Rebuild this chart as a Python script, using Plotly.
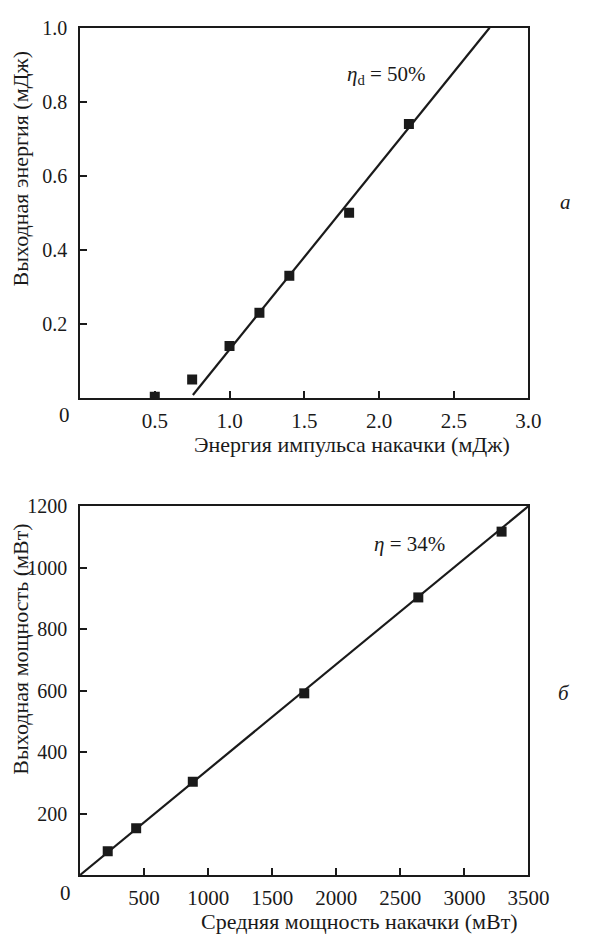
import plotly.graph_objects as go

W, H = 590, 936

# --- Panel a: pulse energy ---
pump_energy = [0.5, 0.75, 1.0, 1.2, 1.4, 1.8, 2.2]          # mJ
out_energy = [0.003, 0.05, 0.14, 0.23, 0.33, 0.50, 0.74]     # mJ
fit_a_x = [0.755, 2.74]
fit_a_y = [0.008, 1.0]
xticks_a = [0.5, 1.0, 1.5, 2.0, 2.5, 3.0]
yticks_a = [0.2, 0.4, 0.6, 0.8, 1.0]

# --- Panel б: average power ---
pump_power = [216, 438, 880, 1750, 2640, 3290]               # mW
out_power = [77, 152, 303, 591, 903, 1117]                   # mW
fit_b_x = [0, 3500]
fit_b_y = [0, 1200]
xticks_b = [500, 1000, 1500, 2000, 2500, 3000, 3500]
yticks_b = [200, 400, 600, 800, 1000, 1200]

FONT = "Liberation Serif"
FS_X = 21
FS_Y = 20
FS_T = 22
INK = "#1a1a1a"

def px(x):
    return x / W

def py(y):
    return 1 - y / H

fig = go.Figure()

fig.add_trace(go.Scatter(x=fit_a_x, y=fit_a_y, mode="lines",
                         line=dict(color=INK, width=2.2),
                         xaxis="x", yaxis="y", showlegend=False))
fig.add_trace(go.Scatter(x=pump_energy, y=out_energy, mode="markers",
                         marker=dict(symbol="square", size=10, color=INK),
                         xaxis="x", yaxis="y", showlegend=False))
fig.add_trace(go.Scatter(x=fit_b_x, y=fit_b_y, mode="lines",
                         line=dict(color=INK, width=2.2),
                         xaxis="x2", yaxis="y2", showlegend=False))
fig.add_trace(go.Scatter(x=pump_power, y=out_power, mode="markers",
                         marker=dict(symbol="square", size=10, color=INK),
                         xaxis="x2", yaxis="y2", showlegend=False))

axis_common = dict(showline=True, linecolor=INK, linewidth=1.5,
                   mirror=True, ticks="inside", ticklen=7, tickwidth=1.5,
                   tickcolor=INK, showgrid=False, zeroline=False)
xfont = dict(family=FONT, size=FS_X, color=INK)
yfont = dict(family=FONT, size=FS_Y, color=INK)

x_dom = [px(83), px(548)]
fig.update_layout(
    width=W, height=H,
    margin=dict(l=0, r=0, t=0, b=0),
    paper_bgcolor="white", plot_bgcolor="white",
    font=dict(family=FONT, size=FS_Y, color=INK),
    xaxis=dict(domain=x_dom, range=[0, 3.0], tickvals=xticks_a,
               ticktext=[f"{v:.1f}" for v in xticks_a], anchor="y",
               ticklabelstandoff=3, tickfont=xfont, **axis_common),
    yaxis=dict(domain=[py(391.5), py(17)], range=[0, 1.0], tickvals=yticks_a,
               ticktext=[f"{v:.1f}" for v in yticks_a], anchor="x",
               ticklabelstandoff=7, tickfont=yfont, **axis_common),
    xaxis2=dict(domain=x_dom, range=[0, 3500], tickvals=xticks_b,
                ticktext=[str(v) for v in xticks_b], anchor="y2",
                ticklabelstandoff=3, tickfont=xfont, **axis_common),
    yaxis2=dict(domain=[py(874.3), py(501)], range=[0, 1200], tickvals=yticks_b,
                ticktext=[str(v) for v in yticks_b], anchor="x2",
                ticklabelstandoff=7, tickfont=yfont, **axis_common),
)

def ann(text, x, y, angle=0, size=FS_T, xanchor="center", yanchor="middle"):
    fig.add_annotation(text=text, x=px(x), y=py(y), xref="paper", yref="paper",
                       showarrow=False, textangle=angle,
                       font=dict(family=FONT, size=size, color=INK),
                       xanchor=xanchor, yanchor=yanchor)

# origin labels
ann("0", 67, 409, size=FS_X)
ann("0", 68, 892, size=FS_X)
# axis titles
ann("Энергия импульса накачки (мДж)", 364.5, 439)
ann("Выходная энергия (мДж)", 21, 159, angle=-90)
ann("Средняя мощность накачки (мВт)", 372.5, 921)
ann("Выходная мощность (мВт)", 21, 646, angle=-90)
# efficiency labels
fig.add_annotation(text="<i>η</i><sub>d</sub> = 50%", x=2.05, y=0.872,
                   xref="x", yref="y", showarrow=False,
                   font=dict(family=FONT, size=21, color=INK))
fig.add_annotation(text="<i>η</i> = 34%", x=2573, y=1077,
                   xref="x2", yref="y2", showarrow=False,
                   font=dict(family=FONT, size=21, color=INK))
# panel letters
ann("<i>a</i>", 579, 193, size=21, xanchor="left")
ann("<i>б</i>", 577, 690, size=21, xanchor="left")

fig.write_html("out.html")
